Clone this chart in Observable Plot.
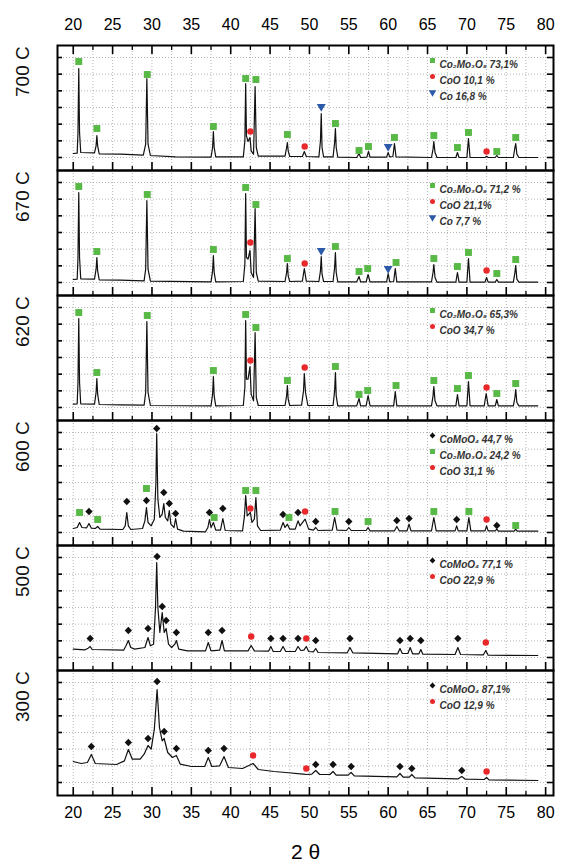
<!DOCTYPE html>
<html><head><meta charset="utf-8">
<script src="https://cdn.jsdelivr.net/npm/d3@7"></script>
<script src="https://cdn.jsdelivr.net/npm/@observablehq/plot@0.6"></script>
<style>body{margin:0;background:#fff}</style>
</head><body><div id="chart"></div>
<script>
// ---------- categories & ticks ----------
const panels = ["700 C","670 C","620 C","600 C","500 C","300 C"];
const xMajorTicks = [20,25,30,35,40,45,50,55,60,65,70,75,80];
const xMinorTicks = [22.5,27.5,32.5,37.5,42.5,47.5,52.5,57.5,62.5,67.5,72.5,77.5];
const yTicks = [0,100,200,300,400,500,600];
const xTitle = "2 θ";

// ---------- diffraction traces [2θ, intensity] ----------
const trace700 = [[20.0,24],[20.5,26],[20.6,150],[20.7,534],[20.8,150],[20.95,30],[22.7,28],[22.9,70],[23.0,132],[23.1,70],[23.3,22],[26,20],[28.9,14],[29.2,80],[29.35,474],[29.5,80],[29.8,12],[33,4],[37.5,2],[37.7,60],[37.8,156],[37.9,60],[38.1,4],[41.6,4],[41.8,100],[41.9,444],[42.0,130],[42.2,96],[42.45,120],[42.6,40],[42.9,20],[43.1,426],[43.25,60],[43.5,8],[46.9,8],[47.1,60],[47.2,90],[47.3,40],[47.5,6],[49.1,6],[49.35,36],[49.6,6],[51.2,4],[51.4,100],[51.5,264],[51.6,60],[51.8,4],[53.0,4],[53.2,90],[53.3,174],[53.4,60],[53.6,2],[56.0,0],[56.3,24],[56.5,0],[57.3,2],[57.5,36],[57.7,2],[59.8,2],[60.0,30],[60.2,4],[60.6,6],[60.8,84],[61.0,4],[65.5,0],[65.7,50],[65.8,96],[65.95,30],[66.2,0],[68.6,0],[68.8,30],[69.0,0],[70.0,0],[70.2,114],[70.4,0],[72.3,0],[72.5,8],[72.7,0],[73.6,0],[73.8,12],[74.0,0],[75.9,0],[76.1,60],[76.2,84],[76.35,20],[76.6,0],[79,0]];
const trace670 = [[20.0,18],[20.5,20],[20.6,150],[20.7,540],[20.8,150],[20.95,22],[22.7,20],[22.9,80],[23.0,150],[23.1,70],[23.3,16],[26,14],[29.0,10],[29.2,80],[29.35,492],[29.5,80],[29.8,8],[37.5,4],[37.7,70],[37.8,162],[37.9,60],[38.1,4],[41.6,6],[41.8,110],[41.9,534],[42.0,150],[42.2,140],[42.45,192],[42.6,60],[42.9,30],[43.1,444],[43.25,60],[43.5,8],[46.9,6],[47.1,60],[47.2,114],[47.3,40],[47.5,6],[49.1,8],[49.35,84],[49.6,8],[51.2,6],[51.4,70],[51.5,156],[51.6,50],[51.8,6],[53.0,6],[53.2,90],[53.3,180],[53.4,60],[53.6,4],[56.0,4],[56.3,36],[56.5,4],[57.2,4],[57.45,48],[57.7,4],[59.8,4],[60.0,54],[60.2,4],[60.7,6],[60.9,84],[61.1,4],[65.5,4],[65.7,60],[65.8,108],[65.95,30],[66.2,2],[68.6,2],[68.8,60],[69.0,2],[70.0,2],[70.2,144],[70.4,2],[72.3,2],[72.5,30],[72.7,2],[73.6,2],[73.8,18],[74.0,2],[75.9,2],[76.1,60],[76.2,102],[76.35,20],[76.6,2],[79,2]];
const trace620 = [[20.0,20],[20.5,22],[20.6,150],[20.7,534],[20.8,150],[20.95,22],[22.7,20],[22.9,90],[23.0,174],[23.1,80],[23.3,18],[26,16],[29.0,14],[29.2,90],[29.35,516],[29.5,90],[29.8,12],[37.5,10],[37.7,80],[37.8,186],[37.9,70],[38.1,10],[41.6,12],[41.8,120],[41.9,522],[42.0,170],[42.2,170],[42.45,246],[42.6,80],[42.9,40],[43.1,450],[43.25,60],[43.5,12],[46.9,12],[47.1,70],[47.2,132],[47.3,50],[47.5,12],[49.0,14],[49.25,100],[49.35,204],[49.5,90],[49.8,12],[53.0,12],[53.2,100],[53.3,210],[53.4,70],[53.6,10],[56.0,10],[56.3,54],[56.5,10],[57.2,10],[57.45,72],[57.7,10],[60.7,10],[60.9,96],[61.1,10],[65.5,10],[65.7,70],[65.8,126],[65.95,40],[66.2,10],[68.6,10],[68.8,78],[69.0,10],[70.0,10],[70.2,156],[70.4,10],[72.2,10],[72.45,84],[72.7,10],[73.6,10],[73.8,48],[74.0,10],[75.9,10],[76.1,60],[76.2,108],[76.35,30],[76.6,10],[79,10]];
const trace600 = [[20.0,24],[20.5,30],[20.8,60],[21.1,30],[21.7,28],[22.0,54],[22.3,26],[22.8,24],[23.1,36],[23.4,20],[26.3,18],[26.6,40],[26.8,120],[27.0,40],[27.3,18],[28.8,24],[29.1,70],[29.3,150],[29.5,60],[29.9,40],[30.3,80],[30.5,300],[30.6,594],[30.75,200],[31.0,90],[31.3,110],[31.5,174],[31.7,90],[32.0,70],[32.2,132],[32.4,50],[32.8,30],[33.0,84],[33.25,20],[34,8],[36.8,4],[37.1,30],[37.3,78],[37.5,30],[37.8,60],[38.1,14],[38.7,14],[39.0,84],[39.3,12],[41.5,10],[41.75,100],[41.9,222],[42.1,100],[42.5,120],[42.7,60],[43.0,80],[43.2,210],[43.4,40],[43.8,12],[46.3,14],[46.65,60],[46.9,30],[47.2,50],[47.5,20],[48.2,20],[48.55,70],[48.8,40],[49.45,80],[49.9,20],[50.5,14],[50.8,30],[51.1,12],[52.9,14],[53.2,90],[53.5,14],[54.7,12],[55.0,30],[55.3,12],[57.2,12],[57.45,30],[57.7,10],[60.8,10],[61.1,36],[61.4,10],[62.4,10],[62.65,50],[62.9,10],[65.5,10],[65.8,90],[66.1,10],[68.5,10],[68.7,40],[68.9,10],[70.0,10],[70.25,90],[70.5,10],[72.3,10],[72.5,40],[72.7,10],[73.6,10],[73.8,20],[74.0,8],[76.0,8],[76.2,20],[76.4,8],[79,8]];
const trace500 = [[20.0,50],[21.5,46],[21.9,56],[22.15,66],[22.4,48],[26.4,44],[26.7,70],[27.0,102],[27.3,60],[27.8,50],[29.1,60],[29.5,120],[29.8,70],[30.2,80],[30.45,300],[30.6,570],[30.75,300],[31.0,150],[31.3,270],[31.55,150],[31.8,174],[32.1,80],[32.5,60],[32.9,80],[33.1,102],[33.4,50],[34.5,40],[36.8,40],[37.15,90],[37.5,40],[38.6,44],[38.9,102],[39.2,40],[42.2,40],[42.6,72],[43.0,40],[44.8,38],[45.1,66],[45.4,36],[46.3,36],[46.65,66],[47.0,36],[48.2,36],[48.55,66],[48.9,42],[49.3,44],[49.6,66],[49.9,36],[50.5,34],[50.8,54],[51.1,30],[54.8,28],[55.15,60],[55.5,28],[61.2,22],[61.5,54],[61.8,24],[62.5,24],[62.8,60],[63.1,22],[63.9,22],[64.15,48],[64.4,20],[68.5,18],[68.85,60],[69.2,18],[72.1,16],[72.4,42],[72.7,14],[79,12]];
const trace300 = [[20.0,126],[21.0,114],[21.8,120],[22.3,168],[22.8,114],[25.5,108],[26.5,130],[27.0,198],[27.5,140],[28.5,140],[29.0,170],[29.5,222],[29.9,200],[30.3,320],[30.65,558],[30.95,330],[31.3,250],[31.55,264],[32.0,180],[32.6,150],[33.1,162],[33.6,110],[35.0,96],[36.7,96],[37.15,150],[37.6,96],[38.6,100],[39.15,156],[39.7,90],[41.5,84],[42.85,114],[43.5,78],[45.5,66],[47.0,60],[49.2,50],[49.6,48],[50.3,50],[50.8,72],[51.3,48],[52.6,48],[53.0,66],[53.4,44],[54.9,44],[55.3,60],[55.7,40],[61.1,34],[61.5,54],[61.9,32],[62.7,32],[63.0,48],[63.4,28],[68.9,22],[69.35,36],[69.8,20],[72.2,18],[72.5,30],[72.8,16],[79,12]];

// ---------- phase markers [2θ, marker height] ----------
const co2mo3o8_700 = [[20.7,576],[23.0,174],[29.4,498],[37.8,186],[41.9,474],[43.2,468],[47.2,138],[53.3,204],[56.3,42],[57.5,66],[60.8,120],[65.8,132],[68.8,60],[70.2,150],[73.8,36],[76.2,120]];
const coo_700 = [[42.5,156],[49.4,66],[72.5,36]];
const co_700 = [[51.5,306],[60.0,66]];
const co2mo3o8_670 = [[20.7,576],[23.0,186],[29.4,528],[37.8,198],[41.9,570],[43.2,468],[47.2,144],[53.3,216],[56.3,66],[57.4,84],[61.0,120],[65.8,144],[68.8,96],[70.2,180],[73.8,54],[76.2,138]];
const coo_670 = [[42.5,240],[49.4,114],[72.5,72]];
const co_670 = [[51.5,192],[60.0,84]];
const co2mo3o8_620 = [[20.7,570],[23.0,210],[29.4,552],[37.8,222],[41.9,558],[43.2,480],[47.2,162],[53.3,246],[56.3,78],[57.4,102],[61.0,132],[65.8,162],[68.8,114],[70.2,192],[73.8,84],[76.2,144]];
const coo_620 = [[42.5,282],[49.4,240],[72.5,120]];
const comoo4_600 = [[22.0,126],[26.8,186],[29.3,192],[30.6,624],[31.5,240],[32.2,174],[33.0,114],[37.3,120],[39.0,144],[46.65,108],[48.55,120],[50.8,66],[55.0,66],[61.1,72],[62.65,84],[68.7,78],[73.8,42]];
const co2mo3o8_600 = [[20.8,120],[23.1,78],[29.3,264],[37.9,90],[41.9,252],[43.2,252],[47.4,90],[53.25,126],[57.45,66],[65.8,126],[70.25,126],[76.2,42]];
const coo_600 = [[42.5,144],[49.45,126],[72.5,78]];
const comoo4_500 = [[22.15,114],[27.0,162],[29.5,174],[30.65,606],[31.3,306],[31.8,222],[33.1,150],[37.15,150],[38.9,162],[45.1,114],[46.65,114],[48.55,114],[50.8,102],[55.15,114],[61.5,102],[62.8,114],[64.15,102],[68.85,114]];
const coo_500 = [[42.6,126],[49.6,114],[72.4,90]];
const comoo4_300 = [[22.3,216],[27.0,240],[29.5,264],[30.65,606],[31.55,306],[33.1,204],[37.15,192],[39.15,204],[50.8,108],[53.0,108],[55.3,96],[61.5,96],[63.0,84],[69.35,72]];
const coo_300 = [[42.85,162],[49.6,84],[72.5,66]];

// ---------- legend texts ----------
const legend700 = [["square","Co₂Mo₃O₈ 73,1%"],["circle","CoO 10,1 %"],["triangle","Co 16,8 %"]];
const legend670 = [["square","Co₂Mo₃O₈ 71,2 %"],["circle","CoO 21,1%"],["triangle","Co 7,7 %"]];
const legend620 = [["square","Co₂Mo₃O₈ 65,3%"],["circle","CoO 34,7 %"]];
const legend600 = [["diamond","CoMoO₄ 44,7 %"],["square","Co₂Mo₃O₈ 24,2 %"],["circle","CoO 31,1 %"]];
const legend500 = [["diamond","CoMoO₄ 77,1 %"],["circle","CoO 22,9 %"]];
const legend300 = [["diamond","CoMoO₄ 87,1%"],["circle","CoO 12,9 %"]];

// ---------- assembly ----------
const traces = {"700 C":trace700,"670 C":trace670,"620 C":trace620,"600 C":trace600,"500 C":trace500,"300 C":trace300};
const lineData = panels.flatMap(p => traces[p].map(([x, y]) => ({panel: p, x, y})));
const markerSets = [
  ["700 C","square",co2mo3o8_700],["700 C","circle",coo_700],["700 C","triangle",co_700],
  ["670 C","square",co2mo3o8_670],["670 C","circle",coo_670],["670 C","triangle",co_670],
  ["620 C","square",co2mo3o8_620],["620 C","circle",coo_620],
  ["600 C","diamond",comoo4_600],["600 C","square",co2mo3o8_600],["600 C","circle",coo_600],
  ["500 C","diamond",comoo4_500],["500 C","circle",coo_500],
  ["300 C","diamond",comoo4_300],["300 C","circle",coo_300]
];
const legends = {"700 C":legend700,"670 C":legend670,"620 C":legend620,"600 C":legend600,"500 C":legend500,"300 C":legend300};

const triangleDown = {
  draw(ctx, size) {
    const s = Math.sqrt(4 * size / Math.sqrt(3)), h = s * Math.sqrt(3) / 2;
    ctx.moveTo(0, 2 * h / 3);
    ctx.lineTo(s / 2, -h / 3);
    ctx.lineTo(-s / 2, -h / 3);
    ctx.closePath();
  }
};
const style = {
  square: {symbol: "square", fill: "#58b947", r: 3.9, lr: 2.8},
  circle: {symbol: "circle", fill: "#e8282a", r: 3.2, lr: 2.5},
  triangle: {symbol: triangleDown, fill: "#2d5aa8", r: 3.3, lr: 2.8},
  diamond: {symbol: "diamond2", fill: "#111111", r: 3.3, lr: 2.6}
};

const marks = [];
marks.push(Plot.gridX({ticks: xMajorTicks.concat(xMinorTicks), stroke: "#999", strokeOpacity: 0.9, strokeDasharray: "1,2", strokeWidth: 0.8, facetAnchor: null}));
marks.push(Plot.gridY({ticks: yTicks, stroke: "#999", strokeOpacity: 0.9, strokeDasharray: "1,2", strokeWidth: 0.8, facetAnchor: null}));
marks.push(Plot.line(lineData, {x: "x", y: "y", fy: "panel", z: "panel", stroke: "#111", strokeWidth: 1.2}));
for (const [panel, type, pts] of markerSets) {
  const st = style[type];
  marks.push(Plot.dot(pts.map(([x, y]) => ({panel, x, y})), {x: "x", y: "y", fy: "panel", symbol: st.symbol, fill: st.fill, r: st.r, stroke: "none"}));
}
for (const panel of panels) {
  legends[panel].forEach(([type, text], i) => {
    const st = style[type];
    marks.push(Plot.dot([{panel}], {fy: "panel", frameAnchor: "top-right", dx: -121, dy: 15 + 16 * i, symbol: st.symbol, fill: st.fill, r: st.lr, stroke: "none"}));
    marks.push(Plot.text([{panel, text}], {fy: "panel", text: "text", frameAnchor: "top-right", dx: -114, dy: 15 + 16 * i, textAnchor: "start", fontSize: 10, fontWeight: "bold", fontStyle: "italic", fill: "#333"}));
  });
}
marks.push(Plot.frame({stroke: "#000", strokeWidth: 2}));
// inward ticks
marks.push(Plot.axisX({anchor: "bottom", ticks: xMajorTicks, tickSize: -8, fill: "none", stroke: "#000", strokeWidth: 1.6, facetAnchor: null, label: null}));
marks.push(Plot.axisX({anchor: "bottom", ticks: xMinorTicks, tickSize: -4, fill: "none", stroke: "#000", strokeWidth: 1.3, facetAnchor: null, label: null}));
marks.push(Plot.axisX({anchor: "top", ticks: xMajorTicks, tickSize: -8, fill: "none", stroke: "#000", strokeWidth: 1.6, label: null}));
marks.push(Plot.axisX({anchor: "top", ticks: xMinorTicks, tickSize: -4, fill: "none", stroke: "#000", strokeWidth: 1.3, label: null}));
marks.push(Plot.axisY({anchor: "left", ticks: yTicks, tickSize: -5, fill: "none", stroke: "#000", strokeWidth: 1.6, facetAnchor: null, label: null}));
marks.push(Plot.axisY({anchor: "right", ticks: yTicks, tickSize: -7, fill: "none", stroke: "#000", strokeWidth: 1.6, facetAnchor: null, label: null}));
// labelled axes
marks.push(Plot.axisX({anchor: "top", ticks: xMajorTicks, tickSize: 0, tickPadding: 16, fontSize: 16, label: null}));
marks.push(Plot.axisX({anchor: "bottom", ticks: xMajorTicks, tickSize: 0, tickPadding: 11, fontSize: 16, label: xTitle, labelAnchor: "center", labelArrow: "none", labelOffset: 63}));
// panel temperature labels
marks.push(Plot.text(panels, {fy: d => d, text: d => d, frameAnchor: "left", rotate: -90, dx: -35, dy: -11, fontSize: 19, fill: "#111"}));

const chart = Plot.plot({
  width: 562,
  height: 866,
  marginTop: 45,
  marginBottom: 71,
  marginLeft: 57,
  marginRight: 9,
  style: {fontFamily: "'Liberation Sans', Arial, sans-serif", background: "#fff", color: "#000"},
  x: {domain: [18, 81]},
  y: {domain: [-78, 672]},
  fy: {domain: panels, padding: 0, axis: null},
  marks
});
document.getElementById("chart").appendChild(chart);
// the x-axis title font size
chart.querySelectorAll("text").forEach(t => { if (t.textContent === xTitle) t.setAttribute("font-size", "21"); });
</script>
</body></html>
